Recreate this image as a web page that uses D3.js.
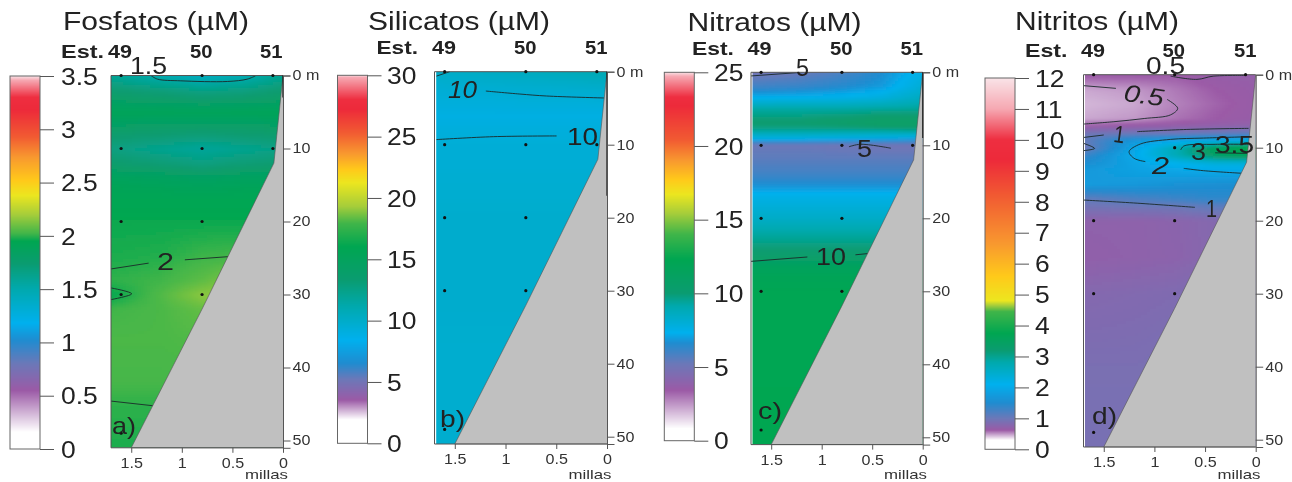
<!DOCTYPE html>
<html><head><meta charset="utf-8">
<script src="https://cdn.jsdelivr.net/npm/d3@7"></script>
<style>
html,body{margin:0;padding:0;background:#fff;overflow:hidden}
svg{display:block;filter:blur(0.4px)}
text{font-family:"Liberation Sans",Arial,sans-serif;fill:#222}
</style></head><body><svg id="c" width="1292" height="482"></svg>
<script>
// ---------- data ----------
const columnMiles = [0, 0.4, 0.8, 1.2, 1.7];
const stationNames = ["49", "50", "51"];
const stationMiles = [1.6, 0.8, 0.1];
const axisDepths = [0, 10, 20, 30, 40, 50];
const axisMiles = [1.5, 1, 0.5, 0];
const seabed = [[0,0],[0.09,12],[0.8,32],[1.5,51],[0,51]];

// shared rainbow palette of all four colour bars
const palette = ["#ffffff","#ffffff","#9b5aa6","#6b78b8","#1f8cd0","#00b0ee","#00a9ae","#0a9c70","#00a651","#40b549","#a6cd3a","#ece61f","#ffc91a","#f8982f","#f15a32","#ed2a3a","#ee2e40","#f6a8b2","#f9e4e8"];

// --- a) Fosfatos
const fosTicks = [0,0.5,1,1.5,2,2.5,3,3.5];
const fosStops = [0,0.16,0.55,0.8,1.02,1.18,1.5,1.74,1.95,2.02,2.2,2.38,2.52,2.74,2.93,3.18,3.3,3.46,3.5];
const fosDepths = [0,2,5,8,10,12,14,17,20,25,28,30,32,36,42,45,51];
const fosValues = [ // columns: 0, 0.4, 0.8, 1.2, 1.7 miles
 [1.62,1.48,1.42,1.5,1.6],
 [1.74,1.68,1.66,1.7,1.74],
 [1.9,1.9,1.9,1.9,1.9],
 [1.76,1.74,1.72,1.74,1.76],
 [1.66,1.62,1.58,1.62,1.68],
 [1.74,1.72,1.68,1.72,1.76],
 [1.86,1.86,1.84,1.86,1.88],
 [1.94,1.94,1.94,1.94,1.94],
 [1.96,1.96,1.96,1.96,1.96],
 [2.03,2.03,2.02,1.99,1.98],
 [2.15,2.15,2.07,2.02,2.0],
 [2.17,2.17,2.15,2.05,1.95],
 [2.1,2.1,2.08,2.04,2.02],
 [2.05,2.05,2.05,2.04,2.04],
 [2.03,2.03,2.03,2.03,2.03],
 [2.0,2.0,2.0,2.0,2.0],
 [1.98,1.98,1.98,1.98,1.98]];
const fosDots = [[1.6,0],[0.8,0],[0.1,0],[1.6,10],[0.8,10],[0.1,10],[1.6,20],[0.8,20],[1.6,30],[0.8,30],[1.6,49]];
const fosLines = [
 [[1.305,0],[1.24,.5],[1.01,.73],[.55,.82],[.354,.5],[.272,.05]],
 [[1.7,26.5],[1.328,25.7]],
 [[.97,25.25],[.525,24.8]],
 [[1.7,29.1],[1.495,29.9],[1.7,30.7]],
 [[1.7,44.6],[1.279,45.25]]];
const fosLabels = [
 {t:"1.5",x:130,y:65.5,w:37},{t:"2",x:157,y:261,w:17},{t:"a)",x:112,y:425,w:24}];

// --- b) Silicatos
const silTicks = [0,5,10,15,20,25,30];
const silStops = [0,1.9,3.5,5.2,6.5,8.4,11.1,13.3,16,17.9,19.3,21.2,22.3,23.6,25.3,27.2,28,29.8,30];
const silDepths = [0,1.5,3,6,10,20,30,40,51];
const silValues = [
 [10.9,10.6,10.4,10.2,10],
 [10.2,10,9.9,9.8,9.7],
 [9.6,9.5,9.5,9.4,9.4],
 [8.9,8.9,8.9,8.9,8.9],
 [9.4,9.4,9.4,9.4,9.4],
 [9.8,9.8,9.8,9.8,9.8],
 [9.8,9.8,9.8,9.8,9.8],
 [9.7,9.7,9.7,9.7,9.7],
 [9.7,9.7,9.7,9.7,9.7]];
const silDots = fosDots;
const silLines = [
 [[1.68,.6],[1.55,0]],
 [[1.194,2.65],[.859,3.06],[.595,3.33],[.03,3.6]],
 [[1.68,9.3],[1.12,8.9],[.497,8.8]]];
const silLabels = [
 {t:"10",x:448,y:89,w:29,i:true},{t:"10",x:567,y:136,w:31}, {t:"b)",x:440,y:418,w:25}];

// --- c) Nitratos
const nitTicks = [0,5,10,15,20,25];
const nitStops = [0,0.8,3.4,5.2,6.6,7.3,9.1,10,12.3,14,15.4,16.7,17.7,19,20.4,22.7,23.3,24.7,25];
const nitDepths = [0,2,3.5,5,7,8,9,10,12,14,15.5,17,20,22,25,27,30,51];
const nitValues = [
 [7.6,6.6,5.8,5.2,4.9],
 [8.0,6.9,6.5,6.2,6.0],
 [8.6,7.8,7.5,7.4,7.3],
 [9.4,9.3,9.2,9.2,9.2],
 [10.8,10.9,10.5,10.2,10.2],
 [9.6,9.4,9.4,9.4,9.4],
 [7.4,7.6,7.7,7.8,7.8],
 [5.0,5.0,5.1,5.2,5.2],
 [5.5,5.5,5.5,5.5,5.5],
 [6.0,6.0,6.0,6.0,6.0],
 [6.7,6.7,6.7,6.7,6.7],
 [7.5,7.5,7.5,7.5,7.5],
 [8.4,8.4,8.4,8.4,8.4],
 [9.2,9.2,9.2,9.2,9.2],
 [10.2,10.2,10.2,10.2,10.2],
 [11.6,11.6,11.6,11.6,11.6],
 [12.2,12.2,12.2,12.2,12.2],
 [12.3,12.3,12.3,12.3,12.3]];
const nitDots = fosDots;
const nitLines = [
 [[1.7,.5],[1.24,.05]],
 [[.73,10.2],[.617,9.86],[.315,10.4]],
 [[1.7,25.9],[1.142,25.3]],
 [[.666,25],[.519,24.8]]];
const nitLabels = [
 {t:"5",x:796,y:67,w:13},{t:"5",x:857,y:148,w:15},{t:"10",x:816,y:256,w:30},{t:"c)",x:758,y:410,w:24}];

// --- d) Nitritos
const ntrTicks = d3.range(0,13);
const ntrStops = [0,0.3,0.62,1,1.5,2.1,2.8,3.2,3.75,4.45,4.65,4.8,5.6,6.65,8.2,9.35,10,11,12];
const ntrDepths = [0,2,4,6,7,8,9,10,11,12,13,15,17,18,20,25,30,40,51];
const ntrValues = [
 [.68,.66,.62,.63,.63],
 [.66,.62,.56,.5,.47],
 [.65,.6,.54,.47,.44],
 [.66,.62,.57,.5,.47],
 [.72,.7,.68,.66,.62],
 [1.1,1.05,1.0,1.0,.95],
 [2.2,2.0,1.9,1.7,1.05],
 [3.9,3.6,2.7,1.9,.95],
 [3.7,3.4,2.7,2.0,1.3],
 [2.4,2.4,2.15,1.9,1.5],
 [2.0,2.0,1.95,1.85,1.7],
 [1.5,1.55,1.6,1.7,1.75],
 [1.4,1.4,1.3,1.2,1.05],
 [1.1,1.1,1.0,.98,.95],
 [.8,.8,.75,.72,.72],
 [.8,.8,.74,.72,.7],
 [.9,.88,.84,.82,.8],
 [.9,.9,.9,.88,.88],
 [.9,.9,.9,.9,.9]];
const ntrDots = [[1.6,0],[0.8,0],[0.1,0],[0.8,10],[1.6,20],[0.8,20],[1.6,30],[0.8,30],[1.6,49]];
const ntrLines = [
 [[1.7,1.5],[1.38,1.87]],
 [[.875,3.38],[.77,4.6],[.84,5.5],[1.1,6],[1.4,6.44],[1.7,6.76]],
 [[.84,.2],[.58,.64],[.42,.2],[.1,.1]],
 [[1.7,8.6],[1.5,8.26]],
 [[1.17,7.8],[.68,7.5],[.07,7.35]],
 [[1.7,9.4],[1.59,10.1],[1.7,10.4]],
 [[.07,8.5],[.515,8.68],[.84,8.86],[1.14,9.5],[1.25,10.55],[1.2,11.46],[1.09,11.9]],
 [[.71,12.83],[.515,13.15],[.14,13.5]],
 [[.74,10.3],[.71,9.77],[.4,9.54],[.07,9.54]],
 [[.4,10.7],[.07,10.78]],
 [[1.7,17.17],[1.17,17.6],[.6,18.17]]];
const ntrLabels = [
 {t:"0.5",x:1146,y:65,w:39},{t:"0.5",x:1124,y:95,w:40,i:true,r:8},{t:"1",x:1114,y:134,w:11,r:8},
 {t:"2",x:1152,y:165,w:17,i:true},{t:"3",x:1191,y:151,w:15},{t:"3.5",x:1215,y:144,w:39},
 {t:"1",x:1206,y:208,w:11},{t:"d)",x:1092,y:415,w:25}];

// ---------- layout of each panel ----------
const panels = [
 {title:"Fosfatos (µM)",tx:63,tw:186,ty:30, estX:61,estW:43,estY:58, stX:[108,190,260],
  bar:[10,40,76,449],labX:61, left:111,right:283,top:75.5,gap:0, xLabY:468,milX:245,milY:479,dark:3,
  ticks:fosTicks,stops:fosStops,depths:fosDepths,values:fosValues,dots:fosDots,lines:fosLines,labels:fosLabels},
 {title:"Silicatos (µM)",tx:368,tw:182,ty:29.5, estX:376.5,estW:41.5,estY:54, stX:[432,514,585],
  bar:[337.5,367.5,75.3,443.3],labX:387, left:434.5,right:607,top:71.7,gap:1.7, xLabY:464,milX:568.5,milY:479,dark:17,
  ticks:silTicks,stops:silStops,depths:silDepths,values:silValues,dots:silDots,lines:silLines,labels:silLabels},
 {title:"Nitratos (µM)",tx:687.5,tw:174,ty:31, estX:692,estW:42,estY:55, stX:[747.5,830,900.5],
  bar:[664.3,694.3,72.3,440.7],labX:714, left:751,right:922.7,top:72.3,gap:1.5, xLabY:465,milX:884,milY:479,dark:9,
  ticks:nitTicks,stops:nitStops,depths:nitDepths,values:nitValues,dots:nitDots,lines:nitLines,labels:nitLabels},
 {title:"Nitritos (µM)",tx:1015,tw:164,ty:29.5, estX:1025,estW:42.5,estY:57, stX:[1081,1162.5,1234],
  bar:[985,1015,78,449.3],labX:1035, left:1083.5,right:1255.7,top:74.7,gap:1.5, xLabY:467,milX:1217.5,milY:479,dark:0,
  ticks:ntrTicks,stops:ntrStops,depths:ntrDepths,values:ntrValues,dots:ntrDots,lines:ntrLines,labels:ntrLabels}];

const svg = d3.select("#c");
const defs = svg.append("defs");
defs.append("filter").attr("id","soft").attr("x","-5%").attr("y","-5%").attr("width","110%").attr("height","110%")
  .append("feGaussianBlur").attr("stdDeviation",1.8);

function stretch(sel,f){ sel.each(function(){ const n=this;
  n.setAttribute("lengthAdjust","spacingAndGlyphs");
  n.setAttribute("textLength",n.getComputedTextLength()*f); }); return sel; }

function fit(g,str,x,y,w,size,weight,style){
  return g.append("text").attr("x",x).attr("y",y).attr("font-size",size)
   .attr("font-weight",weight||null).attr("font-style",style||null)
   .attr("textLength",w).attr("lengthAdjust","spacingAndGlyphs").text(str);
}

panels.forEach((p,pi)=>{
  const g = svg.append("g");
  const pxPerM = 7.3;
  const y = d3.scaleLinear().domain([0,51]).range([p.top,p.top+51*pxPerM]);
  const x = d3.scaleLinear().domain([1.7,0]).range([p.left,p.right]);
  const color = d3.scaleLinear().domain(p.stops).range(palette).clamp(true);

  // field value from the grid
  const field = (m,d)=>{
    const mm=Math.max(0,Math.min(1.7,m)), dd=Math.max(0,Math.min(51,d));
    let i=Math.min(d3.bisectRight(p.depths,dd),p.depths.length-1), j=Math.min(d3.bisectRight(columnMiles,mm),columnMiles.length-1);
    const d0=p.depths[i-1],d1=p.depths[i],m0=columnMiles[j-1],m1=columnMiles[j];
    const t=(dd-d0)/(d1-d0),u=(mm-m0)/(m1-m0);
    const a=d3.interpolateNumber(p.values[i-1][j-1],p.values[i-1][j])(u);
    const b=d3.interpolateNumber(p.values[i][j-1],p.values[i][j])(u);
    return d3.interpolateNumber(a,b)(t);
  };

  // colour field
  const clipId="clip"+pi;
  defs.append("clipPath").attr("id",clipId).append("rect")
    .attr("x",p.left+p.gap).attr("y",p.top).attr("width",p.right-p.left-p.gap).attr("height",y(51)-p.top);
  const cs=3, cells=[];
  for(let px=p.left-6;px<p.right+6;px+=cs) for(let py=p.top-6;py<y(51)+6;py+=cs) cells.push([px,py]);
  g.append("g").attr("clip-path",`url(#${clipId})`).append("g").attr("filter","url(#soft)")
    .selectAll("rect").data(cells).join("rect")
    .attr("x",c=>c[0]).attr("y",c=>c[1]).attr("width",cs+.5).attr("height",cs+.5)
    .attr("fill",c=>color(field(x.invert(c[0]+cs/2),y.invert(c[1]+cs/2))))
    .attr("shape-rendering","crispEdges");

  // contour lines
  const line=d3.line().x(d=>x(d[0])).y(d=>y(d[1])).curve(d3.curveCatmullRom.alpha(.5));
  g.append("g").selectAll("path").data(p.lines).join("path").attr("d",line)
    .attr("fill","none").attr("stroke","#1a2a2a").attr("stroke-width",0.9);

  // seabed
  g.append("path").attr("d",d3.line().x(d=>x(d[0])).y(d=>y(d[1]))(seabed))
    .attr("fill","#c0c0c0").attr("stroke","#555").attr("stroke-width",.6);

  // frame + dark stretch of the right edge
  g.append("path").attr("d",`M${p.right},${p.top}H${p.left}V${y(51)}H${p.right}`)
    .attr("fill","none").attr("stroke","#555").attr("stroke-width",1);
  if(p.dark) g.append("line").attr("x1",p.right).attr("x2",p.right).attr("y1",y(0)).attr("y2",y(p.dark))
    .attr("stroke","#111").attr("stroke-width",1.2);

  // sampling points
  g.append("g").selectAll("circle").data(p.dots).join("circle")
    .attr("cx",d=>x(d[0])).attr("cy",d=>y(d[1])).attr("r",1.6).attr("fill","#111");

  // right depth axis
  const ay=g.append("g").attr("transform",`translate(${p.right},0)`)
    .call(d3.axisRight(y).tickValues(axisDepths).tickSize(7.5).tickPadding(2).tickFormat(d=>d===0?"0 m":d));
  ay.select(".domain").attr("stroke","#555");
  ay.selectAll("line").attr("stroke","#555");
  stretch(ay.selectAll("text").attr("font-size",14).attr("font-family",null).style("fill","#333"),1.15);

  // bottom mile axis
  const ax=g.append("g").attr("transform",`translate(0,${y(51)})`)
    .call(d3.axisBottom(x).tickValues(axisMiles).tickSize(5).tickFormat(d=>d));
  ax.select(".domain").remove();
  ax.selectAll("line").attr("stroke","#555");
  const xt=ax.selectAll("text").attr("font-size",14).attr("y",p.xLabY-y(51)).attr("dy",0).style("fill","#333");
  stretch(xt,1.15);
  fit(g,"millas",p.milX,p.milY,p.milW||43,13).style("fill","#333");

  // colour bar
  const [bx0,bx1,by0,by1]=p.bar;
  const cbar=d3.scaleLinear().domain([0,d3.max(p.ticks)]).range([by1,by0]);
  g.append("g").selectAll("rect").data(d3.range(by0,by1,1)).join("rect")
    .attr("x",bx0).attr("width",bx1-bx0).attr("y",d=>d).attr("height",1.2)
    .attr("fill",d=>color(cbar.invert(d+.5))).attr("shape-rendering","crispEdges");
  g.append("rect").attr("x",bx0).attr("y",by0).attr("width",bx1-bx0).attr("height",by1-by0)
    .attr("fill","none").attr("stroke","#666").attr("stroke-width",1);
  const ac=g.append("g").attr("transform",`translate(${bx1},0)`)
    .call(d3.axisRight(cbar).tickValues(p.ticks).tickSize(14).tickFormat(d=>d));
  ac.select(".domain").remove();
  ac.selectAll("line").attr("stroke","#555");
  stretch(ac.selectAll("text").attr("font-size",23).attr("x",p.labX-bx1).attr("dy","0.36em").style("fill","#222"),1.15);

  // titles and station headers
  fit(g,p.title,p.tx,p.ty,p.tw,25);
  fit(g,"Est.",p.estX,p.estY,p.estW,19,"bold");
  stationNames.forEach((s,i)=>fit(g,s,p.stX[i],p.estY,i===0?24:22.5,19,"bold"));

  // contour labels and panel letter
  p.labels.forEach(l=>{
    const t=g.append("text").attr("x",l.x).attr("y",l.y).attr("dy","0.36em").attr("font-size",24)
      .attr("font-style",l.i?"italic":null)
      .attr("textLength",l.w).attr("lengthAdjust","spacingAndGlyphs").text(l.t);
    if(l.r) t.attr("transform",`rotate(${l.r},${l.x+l.w/2},${l.y})`);
  });
});
</script></body></html>
